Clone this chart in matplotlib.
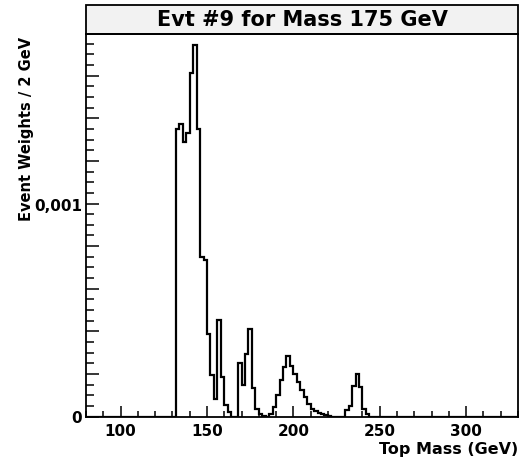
import numpy as np
import matplotlib
matplotlib.use("Agg")
import matplotlib.pyplot as plt
from matplotlib.patches import Rectangle
from matplotlib.ticker import MultipleLocator, FuncFormatter

# histogram: 2 GeV bins from 80 to 330 GeV
mass_lo, mass_hi, bin_w = 80, 330, 2
first_bin = 132  # lower edge of first filled bin
# event weights (units of 1e-3) for contiguous bins starting at first_bin
weights = [1.348, 1.372, 1.289, 1.330, 1.614, 1.746, 1.348, 0.749, 0.735, 0.389,
           0.193, 0.084, 0.451, 0.187, 0.055, 0.020, 0.0, 0.0, 0.253, 0.150,
           0.295, 0.409, 0.136, 0.034, 0.014, 0.004, 0.0, 0.010, 0.045, 0.100,
           0.170, 0.233, 0.284, 0.237, 0.201, 0.162, 0.125, 0.090, 0.058, 0.034,
           0.024, 0.017, 0.012, 0.009, 0.004, 0.0, 0.0, 0.0, 0.0, 0.030,
           0.050, 0.145, 0.200, 0.140, 0.035, 0.014, 0.0]
scale = 1e-3

title = "Evt #9 for Mass 175 GeV"
xlabel = "Top Mass (GeV)"
ylabel = "Event Weights / 2 GeV"

edges = np.arange(mass_lo, mass_hi + bin_w, bin_w)
vals = np.zeros(len(edges) - 1)
i0 = (first_bin - mass_lo) // bin_w
vals[i0:i0 + len(weights)] = np.array(weights) * scale

plt.rcParams['font.family'] = 'DejaVu Sans'
plt.rcParams['font.weight'] = 'bold'

fig = plt.figure(figsize=(5.23, 4.60), dpi=100)
ax = fig.add_axes([86/523, 1 - 417.5/460, 432/523, 382.5/460])

ax.stairs(vals, edges, color='black', lw=1.6)
ax.set_xlim(mass_lo, mass_hi)
ax.set_ylim(0, 0.001796)

for s in ax.spines.values():
    s.set_linewidth(1.3)

ax.xaxis.set_major_locator(MultipleLocator(50))
ax.xaxis.set_minor_locator(MultipleLocator(10))
ax.yaxis.set_major_locator(MultipleLocator(0.0002))
ax.yaxis.set_minor_locator(MultipleLocator(0.00005))

def yfmt(v, pos):
    if abs(v) < 1e-9:
        return "0"
    if abs(v - 0.001) < 1e-9:
        return "0,001"
    return ""
ax.yaxis.set_major_formatter(FuncFormatter(yfmt))

ax.tick_params(axis='both', which='both', direction='in', top=False, right=False,
               labelsize=11, width=1.1)
ax.tick_params(axis='x', which='major', length=8, pad=5)
ax.tick_params(axis='x', which='minor', length=4.5)
ax.tick_params(axis='y', which='major', length=9.5, pad=3)
ax.tick_params(axis='y', which='minor', length=5.5)
for lab in ax.get_xticklabels() + ax.get_yticklabels():
    lab.set_fontweight('bold')

# title box on top of the frame, ROOT style
box_h = 29 / 382.5
ax.add_patch(Rectangle((0, 1), 1, box_h, transform=ax.transAxes, clip_on=False,
                       facecolor='#f2f2f2', edgecolor='black', lw=1.3))
ax.text(0.5, 1 + box_h / 2, title, transform=ax.transAxes, ha='center', va='center',
        fontsize=15, fontweight='bold')

fig.text(518/523, 1 - 450/460, xlabel, ha='right', va='center', fontsize=11.5,
         fontweight='bold')
fig.text(27/523, 1 - 37/460, ylabel, ha='center', va='top', rotation=90,
         fontsize=10.5, fontweight='bold')

fig.savefig("out.png", dpi=100)
